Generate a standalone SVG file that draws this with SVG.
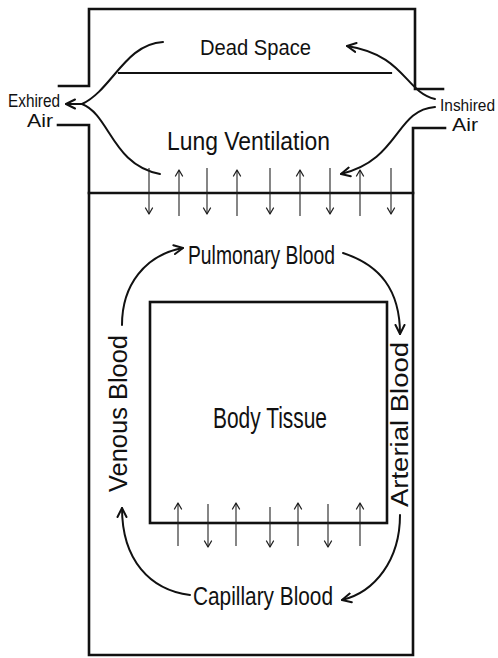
<svg xmlns="http://www.w3.org/2000/svg" width="498" height="658" viewBox="0 0 498 658">
<style>
.wall{fill:none;stroke:#111;stroke-width:2.6;stroke-linecap:square}
.flow{fill:none;stroke:#111;stroke-width:2;stroke-linecap:round}
.ex{fill:none;stroke:#222;stroke-width:1.1}
text{font-family:"Liberation Sans","DejaVu Sans",sans-serif;fill:#111}
</style>
<defs>
<marker id="big" markerUnits="userSpaceOnUse" markerWidth="14" markerHeight="14" refX="10" refY="5" orient="auto" viewBox="0 0 14 10">
<path d="M1,0.5 L10,5 L1,9.5" fill="none" stroke="#111" stroke-width="2" stroke-linecap="round" stroke-linejoin="round"/>
</marker>
<marker id="small" markerUnits="userSpaceOnUse" markerWidth="10" markerHeight="10" refX="7" refY="4" orient="auto" viewBox="0 0 10 8">
<path d="M1,0.5 L7,4 L1,7.5" fill="none" stroke="#222" stroke-width="1.3" stroke-linecap="round" stroke-linejoin="round"/>
</marker>
</defs>

<g id="lung">
<path class="wall" d="M59,86 H89 V9 H415 V89 H443"/>
<path class="wall" d="M58,125 H89 V655 H413 V128 H445"/>
<line class="wall" x1="89" y1="193" x2="413" y2="193"/>
</g>

<g id="dead-space">
<line class="wall" x1="119" y1="73" x2="391" y2="73" style="stroke-width:2.2"/>
<text x="200" y="55" font-size="22" textLength="111" lengthAdjust="spacingAndGlyphs">Dead Space</text>
</g>

<g id="lung-ventilation">
<text x="167" y="150" font-size="26" textLength="163" lengthAdjust="spacingAndGlyphs">Lung Ventilation</text>
</g>

<g id="expired-air">
<text x="8" y="107" font-size="19" textLength="52" lengthAdjust="spacingAndGlyphs">Exhired</text>
<text x="27" y="127" font-size="19" textLength="26" lengthAdjust="spacingAndGlyphs">Air</text>
</g>

<g id="inspired-air">
<text x="440" y="111" font-size="16" textLength="55" lengthAdjust="spacingAndGlyphs">Inshired</text>
<text x="452" y="131" font-size="19" textLength="26" lengthAdjust="spacingAndGlyphs">Air</text>
</g>

<g id="body-tissue">
<rect class="wall" x="150" y="302" width="237" height="221"/>
<text x="213" y="428" font-size="29" textLength="114" lengthAdjust="spacingAndGlyphs">Body Tissue</text>
</g>

<g id="pulmonary-blood">
<text x="188" y="264" font-size="25" textLength="147" lengthAdjust="spacingAndGlyphs">Pulmonary Blood</text>
</g>

<g id="capillary-blood">
<text x="193" y="605" font-size="26" textLength="140" lengthAdjust="spacingAndGlyphs">Capillary Blood</text>
</g>

<g id="venous-blood">
<text transform="translate(127,492) rotate(-90)" x="0" y="0" font-size="26" textLength="157" lengthAdjust="spacingAndGlyphs">Venous Blood</text>
</g>

<g id="arterial-blood">
<text transform="translate(408,507) rotate(-90)" x="0" y="0" font-size="23" textLength="165" lengthAdjust="spacingAndGlyphs">Arterial Blood</text>
</g>

<g id="connectors">
<!-- air flow -->
<path class="flow" d="M163,42 C125,44 112,90 82,104"/>
<path class="flow" d="M160,174 C112,165 110,115 82,104 L66,104" marker-end="url(#big)"/>
<path class="flow" d="M435,99 C405,92 405,55 347,46" marker-end="url(#big)"/>
<path class="flow" d="M435,107 C395,110 400,160 341,174" marker-end="url(#big)"/>
<!-- blood flow -->
<path class="flow" d="M122,325 C122,285 145,255 183,248" marker-end="url(#big)"/>
<path class="flow" d="M343,253 C380,265 400,290 400,334" marker-end="url(#big)"/>
<path class="flow" d="M400,515 C400,560 375,592 342,600" marker-end="url(#big)"/>
<path class="flow" d="M190,595 C150,590 122,560 122,508" marker-end="url(#big)"/>
<!-- gas exchange, lungs -->
<line class="ex" x1="149" y1="168" x2="149" y2="214" marker-end="url(#small)"/>
<line class="ex" x1="179" y1="216" x2="179" y2="170" marker-end="url(#small)"/>
<line class="ex" x1="207" y1="168" x2="207" y2="214" marker-end="url(#small)"/>
<line class="ex" x1="237" y1="216" x2="237" y2="170" marker-end="url(#small)"/>
<line class="ex" x1="270" y1="168" x2="270" y2="214" marker-end="url(#small)"/>
<line class="ex" x1="300" y1="216" x2="300" y2="170" marker-end="url(#small)"/>
<line class="ex" x1="330" y1="168" x2="330" y2="214" marker-end="url(#small)"/>
<line class="ex" x1="360" y1="216" x2="360" y2="170" marker-end="url(#small)"/>
<line class="ex" x1="391" y1="168" x2="391" y2="214" marker-end="url(#small)"/>
<!-- gas exchange, tissue -->
<line class="ex" x1="178" y1="546" x2="178" y2="503" marker-end="url(#small)"/>
<line class="ex" x1="208" y1="504" x2="208" y2="547" marker-end="url(#small)"/>
<line class="ex" x1="236" y1="546" x2="236" y2="503" marker-end="url(#small)"/>
<line class="ex" x1="270" y1="507" x2="270" y2="547" marker-end="url(#small)"/>
<line class="ex" x1="298" y1="546" x2="298" y2="503" marker-end="url(#small)"/>
<line class="ex" x1="328" y1="504" x2="328" y2="547" marker-end="url(#small)"/>
<line class="ex" x1="360" y1="546" x2="360" y2="503" marker-end="url(#small)"/>
</g>
</svg>
